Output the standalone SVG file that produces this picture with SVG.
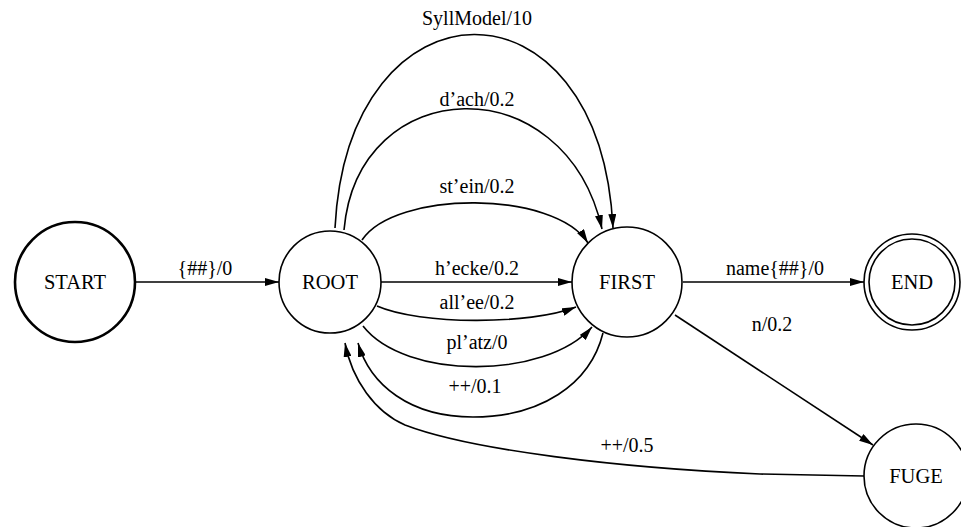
<svg xmlns="http://www.w3.org/2000/svg" width="961" height="527" viewBox="0 0 961 527">
<style>
.node{fill:#fff;stroke:#000;stroke-width:1.6}
.thick{stroke-width:2.6}
.nl{font-family:"Liberation Serif","Times New Roman",serif;font-size:20.5px;text-anchor:middle;fill:#000}
.el{font-family:"Liberation Serif","Times New Roman",serif;font-size:20px;text-anchor:middle;fill:#000}
.edge{fill:none;stroke:#000;stroke-width:1.6;marker-end:url(#arr)}
</style>
<defs>
<marker id="arr" markerUnits="userSpaceOnUse" markerWidth="15" markerHeight="8" refX="14" refY="4" orient="auto">
<path d="M0,0 L14,4 L0,8 z" fill="#000"/>
</marker>
</defs>
<rect width="961" height="527" fill="#fff"/>
<g id="connectors">
<path class="edge" d="M135,282 L279,282"/>
<path class="edge" d="M381,282 L572,282"/>
<path class="edge" d="M377,306 C420,325 530,325 576,307"/>
<path class="edge" d="M363,326 C405,380 545,380 592,327"/>
<path class="edge" d="M603,333 C590,385 540,417 473,417 C410,417 370,385 358,343"/>
<path class="edge" d="M864,476 L760,474 C620,468 470,450 405,425 C375,412 352,380 345,343"/>
<path class="edge" d="M362,240 C395,190 555,190 588,243"/>
<path class="edge" d="M344,230 C358,72 565,65 602,229"/>
<path class="edge" d="M335,228 C348,-28 600,-32 613,228"/>
<path class="edge" d="M683,282 L864,282"/>
<path class="edge" d="M675,315 L873,445"/>
</g>
<g id="edge-labels">
<text class="el" x="205" y="275">{##}/0</text>
<text class="el" x="477" y="25">SyllModel/10</text>
<text class="el" x="477" y="106">d’ach/0.2</text>
<text class="el" x="477" y="193">st’ein/0.2</text>
<text class="el" x="477" y="275">h’ecke/0.2</text>
<text class="el" x="477" y="309">all’ee/0.2</text>
<text class="el" x="477" y="349">pl’atz/0</text>
<text class="el" x="475" y="393">++/0.1</text>
<text class="el" x="627" y="452">++/0.5</text>
<text class="el" x="775" y="275">name{##}/0</text>
<text class="el" x="772" y="331">n/0.2</text>
</g>
<g id="START">
<circle class="node thick" cx="75" cy="282" r="60"/>
<text class="nl" x="75" y="289">START</text>
</g>
<g id="ROOT">
<circle class="node" cx="330" cy="282" r="51"/>
<text class="nl" x="330" y="289">ROOT</text>
</g>
<g id="FIRST">
<circle class="node" cx="627" cy="282" r="55"/>
<text class="nl" x="627" y="289">FIRST</text>
</g>
<g id="END">
<circle class="node" cx="912" cy="282" r="48"/>
<circle class="node" cx="912" cy="282" r="43"/>
<text class="nl" x="912" y="289">END</text>
</g>
<g id="FUGE">
<circle class="node" cx="916" cy="476" r="52"/>
<text class="nl" x="916" y="483">FUGE</text>
</g>
</svg>
